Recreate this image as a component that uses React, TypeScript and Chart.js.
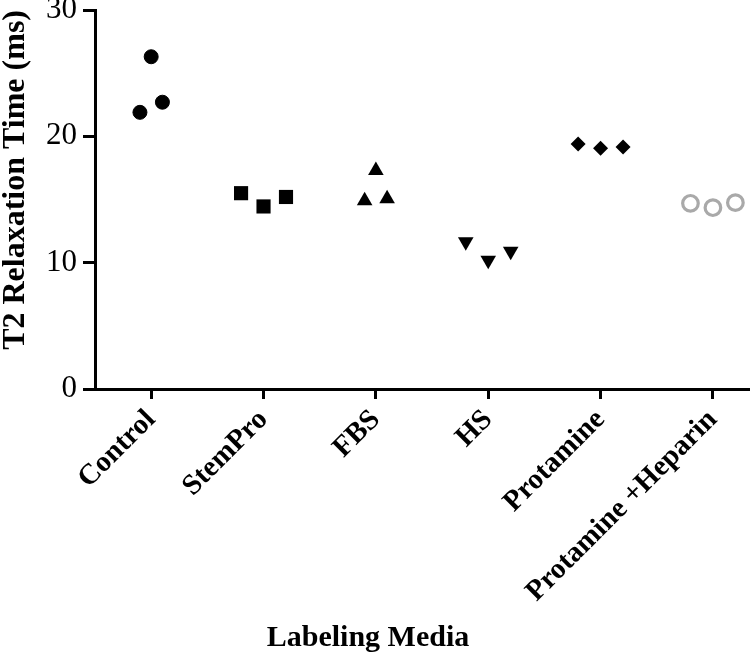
import React, { useEffect, useRef } from 'react';
import { Chart, registerables } from 'chart.js';

Chart.register(...registerables);

const categories = ['Control', 'StemPro', 'FBS', 'HS', 'Protamine', 'Protamine +Heparin'];
const yTickValues = [0, 10, 20, 30];

const controlT2 = [21.9, 26.3, 22.7];
const stemProT2 = [15.5, 14.45, 15.2];
const fbsT2 = [14.9, 17.3, 15.05];
const hsT2 = [11.65, 10.2, 10.9];
const protamineT2 = [19.4, 19.05, 19.15];
const protHepT2 = [14.7, 14.35, 14.75];

const narrowSpread = [-0.1, 0, 0.1];
const wideSpread = [-0.2, 0, 0.2];

const FONT = '"Liberation Serif", "Times New Roman", serif';

function toPoints(groupIndex: number, values: number[], spread: number[]) {
  return values.map((v, i) => ({ x: groupIndex + spread[i], y: v }));
}

const xTitlePlugin = {
  id: 'xTitlePlugin',
  afterDraw(chart: any) {
    const ctx = chart.ctx;
    const xs = chart.scales.x;
    ctx.save();
    ctx.font = `bold 30px ${FONT}`;
    ctx.fillStyle = '#000';
    ctx.textAlign = 'center';
    ctx.textBaseline = 'alphabetic';
    ctx.fillText('Labeling Media', xs.getPixelForValue(1.93), 646);
    ctx.restore();
  },
};

export default function App() {
  const canvasRef = useRef<HTMLCanvasElement | null>(null);

  useEffect(() => {
    document.body.style.margin = '0';
    const canvas = canvasRef.current;
    if (!canvas) return;

    const black = '#000000';
    const grey = '#a9a9a9';

    const chart = new Chart(canvas, {
      type: 'scatter',
      data: {
        datasets: [
          {
            label: categories[0],
            data: toPoints(0, controlT2, narrowSpread),
            pointStyle: 'circle',
            pointRadius: 7,
            backgroundColor: black,
            borderColor: black,
            borderWidth: 1,
          },
          {
            label: categories[1],
            data: toPoints(1, stemProT2, wideSpread),
            pointStyle: 'rect',
            pointRadius: 10,
            backgroundColor: black,
            borderColor: black,
            borderWidth: 0,
          },
          {
            label: categories[2],
            data: toPoints(2, fbsT2, narrowSpread),
            pointStyle: 'triangle',
            pointRadius: 9,
            backgroundColor: black,
            borderColor: black,
            borderWidth: 0,
          },
          {
            label: categories[3],
            data: toPoints(3, hsT2, wideSpread),
            pointStyle: 'triangle',
            rotation: 180,
            pointRadius: 9,
            backgroundColor: black,
            borderColor: black,
            borderWidth: 0,
          },
          {
            label: categories[4],
            data: toPoints(4, protamineT2, wideSpread),
            pointStyle: 'rectRot',
            pointRadius: 7.5,
            backgroundColor: black,
            borderColor: black,
            borderWidth: 0,
          },
          {
            label: categories[5],
            data: toPoints(5, protHepT2, wideSpread),
            pointStyle: 'circle',
            pointRadius: 7.8,
            backgroundColor: 'rgba(255,255,255,0)',
            borderColor: grey,
            borderWidth: 3.2,
          },
        ],
      },
      options: {
        animation: false,
        responsive: true,
        maintainAspectRatio: false,
        layout: { autoPadding: false, padding: { top: 10, left: 0, right: 0, bottom: 0 } },
        plugins: {
          legend: { display: false },
          tooltip: { enabled: false },
        },
        scales: {
          x: {
            type: 'linear',
            min: -0.5,
            max: 5.33,
            afterBuildTicks: (s: any) => {
              s.ticks = categories.map((_, i) => ({ value: i }));
            },
            afterFit: (s: any) => {
              s.height = 265;
              s.paddingLeft = 0;
              s.paddingRight = 0;
            },
            ticks: {
              autoSkip: false,
              minRotation: 45,
              maxRotation: 45,
              padding: 7,
              color: black,
              font: { family: FONT, size: 29, weight: 'bold', lineHeight: 0.9 },
              callback: (_v: any, i: number) => categories[i],
            },
            grid: {
              drawOnChartArea: false,
              drawTicks: true,
              tickLength: 10,
              tickWidth: 3,
              tickColor: black,
              color: black,
            },
            border: { display: true, color: black, width: 3 },
          },
          y: {
            type: 'linear',
            min: 0,
            max: 30,
            afterBuildTicks: (s: any) => {
              s.ticks = yTickValues.map((v) => ({ value: v }));
            },
            afterFit: (s: any) => {
              s.width = 95;
              s.paddingTop = 0;
              s.paddingBottom = 0;
            },
            ticks: {
              color: black,
              padding: 6,
              font: { family: FONT, size: 31, lineHeight: 0.25 },
            },
            grid: {
              drawOnChartArea: false,
              drawTicks: true,
              tickLength: 12,
              tickWidth: 3,
              tickColor: black,
              color: black,
            },
            border: { display: true, color: black, width: 3 },
            title: {
              display: true,
              text: 'T2 Relaxation Time (ms)',
              align: 'end',
              color: black,
              padding: 0,
              font: { family: FONT, size: 32, weight: 'bold', lineHeight: 1 },
            },
          },
        },
      },
      plugins: [xTitlePlugin],
    } as any);

    return () => {
      chart.destroy();
    };
  }, []);

  return (
    <div style={{ position: 'relative', width: '750px', height: '654px' }}>
      <canvas ref={canvasRef} />
    </div>
  );
}
